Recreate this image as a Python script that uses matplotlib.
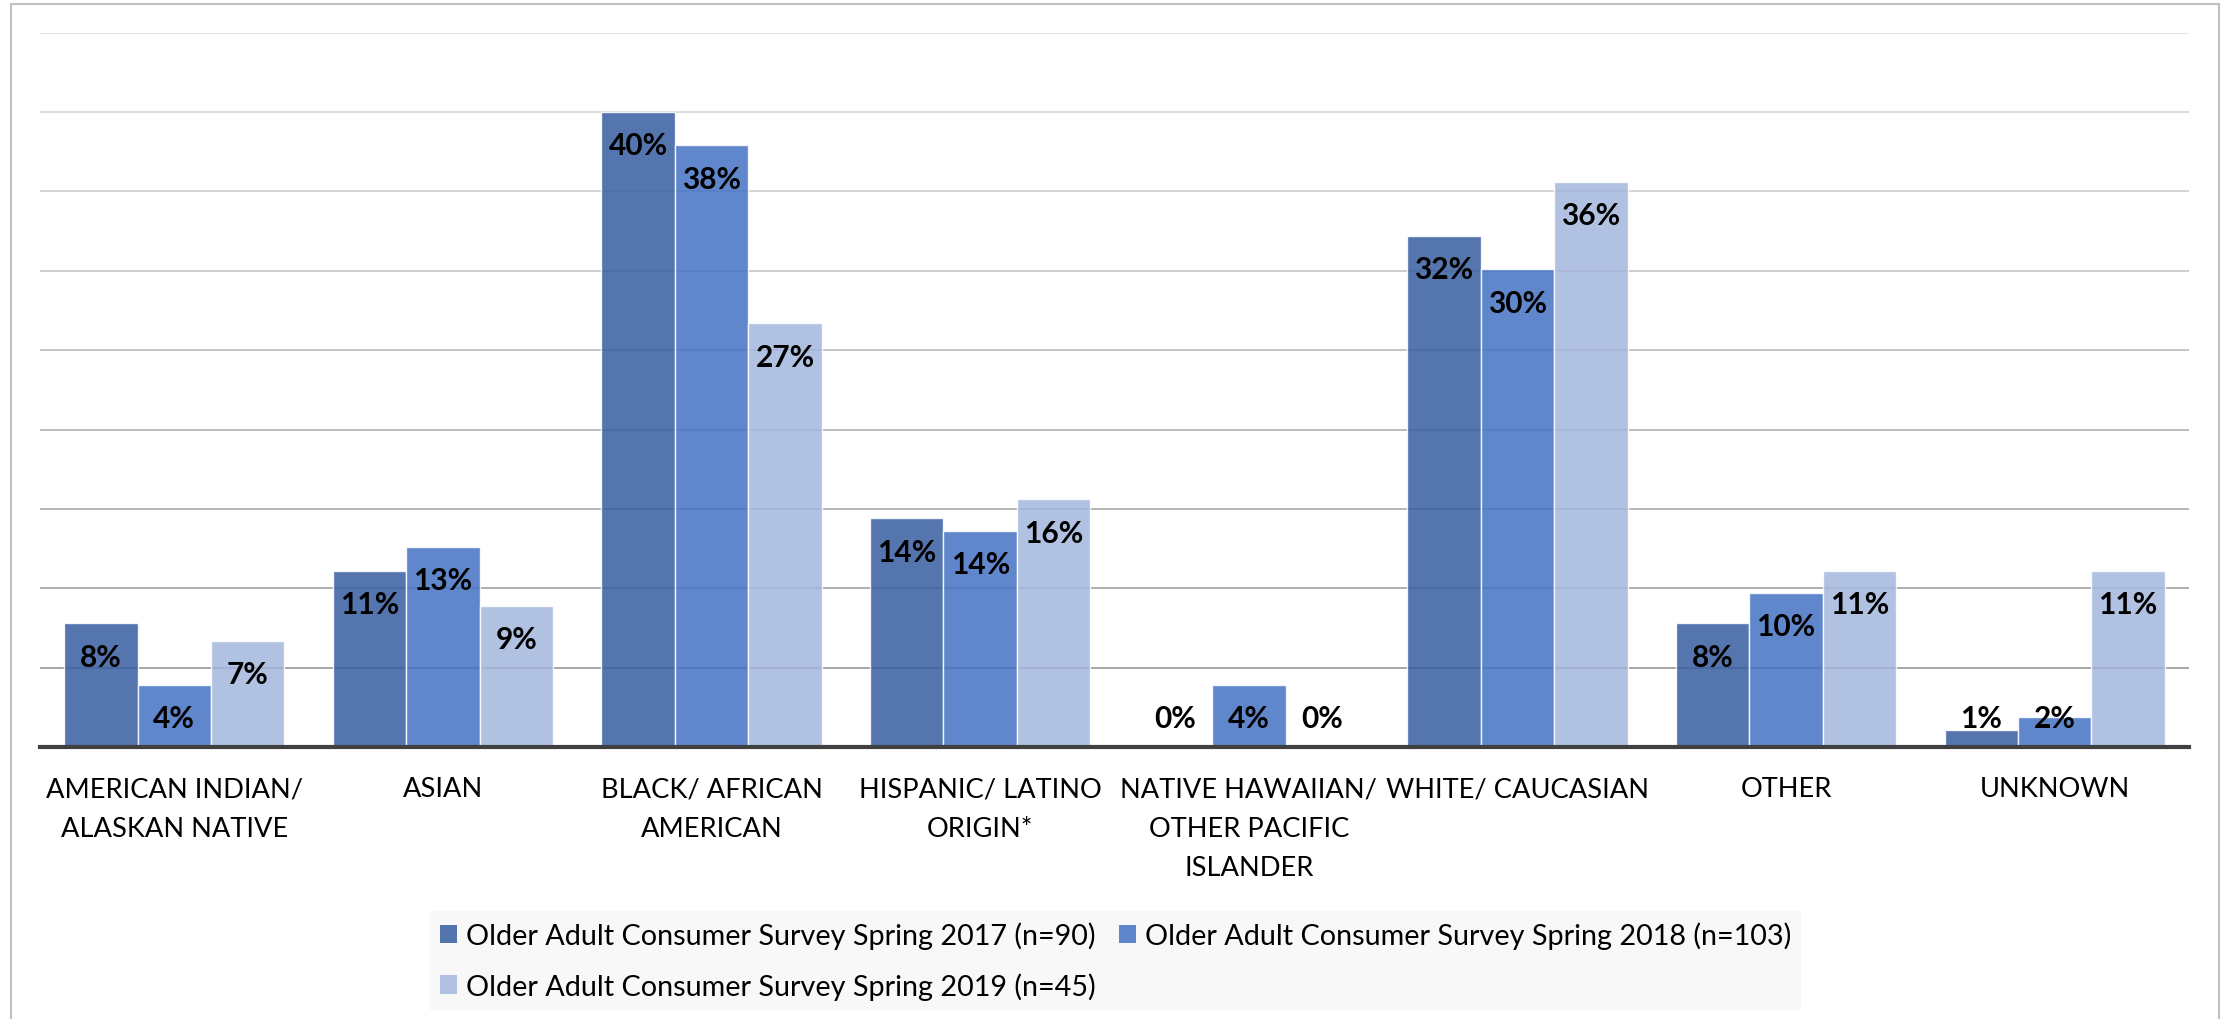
import numpy as np
import matplotlib
matplotlib.use("Agg")
import matplotlib.pyplot as plt
from matplotlib.patches import Rectangle, Patch

plt.rcParams['font.family'] = ['Lato', 'DejaVu Sans']

categories = [
    "AMERICAN INDIAN/\nALASKAN NATIVE",
    "ASIAN",
    "BLACK/ AFRICAN\nAMERICAN",
    "HISPANIC/ LATINO\nORIGIN*",
    "NATIVE HAWAIIAN/\nOTHER PACIFIC\nISLANDER",
    "WHITE/ CAUCASIAN",
    "OTHER",
    "UNKNOWN",
]
series_names = [
    "Older Adult Consumer Survey Spring 2017 (n=90)",
    "Older Adult Consumer Survey Spring 2018 (n=103)",
    "Older Adult Consumer Survey Spring 2019 (n=45)",
]
spring_2017 = [7.8, 11.1, 40.0, 14.4, 0.0, 32.2, 7.8, 1.1]
spring_2018 = [3.9, 12.6, 37.9, 13.6, 3.9, 30.1, 9.7, 1.9]
spring_2019 = [6.7, 8.9, 26.7, 15.6, 0.0, 35.6, 11.1, 11.1]

series = [spring_2017, spring_2018, spring_2019]
colors = ["#375DA0", "#4472C4", "#A4B6DC"]

W, H = 2231, 1020
fig = plt.figure(figsize=(W / 100, H / 100), dpi=100)
fig.patch.set_facecolor("white")

ax = fig.add_axes([40 / W, 1 - 748 / H, (2189 - 40) / W, (748 - 33.7) / H])
ax.set_xlim(-0.5, len(categories) - 0.5)
ax.set_ylim(0, 45)

# horizontal gridlines, lighter toward the top
grid_vals = np.arange(5, 46, 5)
for i, g in enumerate(grid_vals):
    t = i / (len(grid_vals) - 1)
    c0 = np.array([0xA6, 0xA6, 0xA6]) / 255
    c1 = np.array([0xE4, 0xE4, 0xE4]) / 255
    ax.axhline(g, color=c0 + (c1 - c0) * t, lw=1.4, zorder=0.5)

x = np.arange(len(categories))
bw = 0.2733
for k, (vals, col) in enumerate(zip(series, colors)):
    pos = x + (k - 1) * bw
    ax.bar(pos, vals, width=bw, color=col, alpha=0.85, edgecolor="white",
           linewidth=1.0, zorder=2)
    for xp, v in zip(pos, vals):
        ax.text(xp, max(v - 2.1, 1.8), f"{v:.0f}%", ha="center", va="center",
                fontsize=21.5, fontweight="bold", color="black", zorder=3)

ax.set_xticks(x)
ax.set_xticklabels(categories, fontsize=19.6, linespacing=1.72, va="top")
ax.tick_params(axis="x", length=0, pad=21)
ax.set_yticks([])
for s in ["top", "right", "left"]:
    ax.spines[s].set_visible(False)
ax.spines["bottom"].set_color("#404040")
ax.spines["bottom"].set_linewidth(3)
ax.spines["bottom"].set_zorder(4)

handles = [Patch(facecolor=c, alpha=0.85, edgecolor="none") for c in colors]
order = [0, 2, 1]
leg = fig.legend([handles[i] for i in order], [series_names[i] for i in order],
                 ncol=2, loc="upper center", bbox_to_anchor=(0.5, 1 - 898 / H),
                 fontsize=20.7, frameon=True, facecolor="#F8F8F8", edgecolor="none",
                 framealpha=1, fancybox=False, handlelength=0.6, handleheight=0.6,
                 handletextpad=0.3, columnspacing=0.8, labelspacing=0.8,
                 borderpad=0.35)

# outer frame
fig.patches.append(Rectangle((10.7 / W, -0.05), (2219 - 10.7) / W, 1.05 - 4.7 / H,
                             transform=fig.transFigure, fill=False,
                             edgecolor="#C0C0C0", linewidth=1.5))

fig.savefig("out.png", dpi=100)
